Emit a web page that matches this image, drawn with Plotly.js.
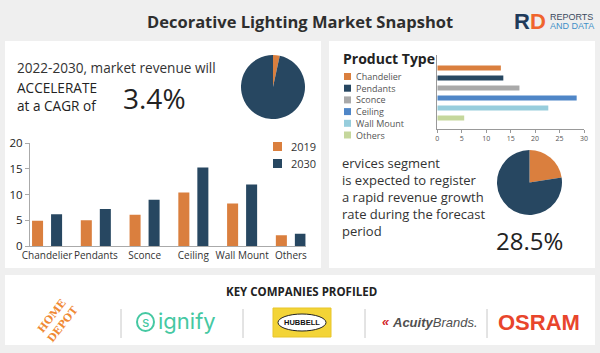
<!DOCTYPE html>
<html>
<head>
<meta charset="utf-8">
<script src="https://cdn.plot.ly/plotly-3.0.1.min.js"></script>
<style>html,body{margin:0;padding:0;background:#efefef;}#chart{width:600px;height:353px;}</style>
</head>
<body>
<div id="chart"></div>
<script>
// ---------- data ----------
const categories = ['Chandelier', 'Pendants', 'Sconce', 'Ceiling', 'Wall Mount', 'Others'];
const years = ['2019', '2030'];
const revenue2019 = [4.9, 5.0, 6.1, 10.4, 8.3, 2.1];
const revenue2030 = [6.2, 7.2, 9.0, 15.3, 12.0, 2.4];
const productTypes = ['Chandelier', 'Pendants', 'Sconce', 'Ceiling', 'Wall Mount', 'Others'];
const productShare = [13.0, 13.5, 16.8, 28.5, 22.7, 5.5];
const cagrPieValues = [3.4, 96.6];
const servicesPieValues = [22.5, 77.5];
const barYTicks = [0, 5, 10, 15, 20];
const shareXTicks = [0, 5, 10, 15, 20, 25, 30];
const companies = ['HOME<br>DEPOT', 'ignify', 'HUBBELL', 'Acuity', 'Brands.', 'OSRAM'];

// ---------- styles ----------
const ORANGE = '#DA7F3E';
const NAVY = '#274761';
const productColors = ['#DA7F3E', '#274761', '#A9A9A9', '#4F86C7', '#97CDDC', '#C5D79C'];
const FONT = 'Open Sans, sans-serif';
const W = 600, H = 353;
const px = x => x / W;
const py = y => 1 - y / H;

const traces = [];
traces.push({
  type: 'bar', x: categories, y: revenue2019, name: years[0], xaxis: 'x', yaxis: 'y',
  marker: {color: ORANGE}, offsetgroup: 'a', showlegend: false, hoverinfo: 'skip'
});
traces.push({
  type: 'bar', x: categories, y: revenue2030, name: years[1], xaxis: 'x', yaxis: 'y',
  marker: {color: NAVY}, offsetgroup: 'b', showlegend: false, hoverinfo: 'skip'
});
productTypes.forEach((p, i) => {
  traces.push({
    type: 'bar', orientation: 'h', y: [p], x: [productShare[i]], name: p,
    xaxis: 'x2', yaxis: 'y2', width: 0.48, offsetgroup: 'h',
    marker: {color: productColors[i]}, showlegend: false, hoverinfo: 'skip'
  });
});
traces.push({
  type: 'pie', values: cagrPieValues, sort: false, direction: 'clockwise', rotation: 0,
  marker: {colors: [ORANGE, NAVY], line: {width: 0}}, textinfo: 'none', hoverinfo: 'skip',
  showlegend: false, domain: {x: [px(241), px(305)], y: [py(119), py(55)]}
});
traces.push({
  type: 'pie', values: servicesPieValues, sort: false, direction: 'clockwise', rotation: 0,
  marker: {colors: [ORANGE, NAVY], line: {width: 0}}, textinfo: 'none', hoverinfo: 'skip',
  showlegend: false, domain: {x: [px(497), px(562)], y: [py(215), py(150)]}
});

const shapes = [
  {type: 'rect', xref: 'paper', yref: 'paper', x0: px(5), x1: px(321), y0: py(268), y1: py(41), fillcolor: '#ffffff', line: {width: 0}, layer: 'below'},
  {type: 'rect', xref: 'paper', yref: 'paper', x0: px(329), x1: px(595), y0: py(268), y1: py(41), fillcolor: '#ffffff', line: {width: 0}, layer: 'below'},
  {type: 'rect', xref: 'paper', yref: 'paper', x0: px(5), x1: px(595), y0: py(345), y1: py(275), fillcolor: '#ffffff', line: {width: 0}, layer: 'below'},
  ...[121, 243, 365, 487].map(x => ({type: 'line', xref: 'paper', yref: 'paper', x0: px(x), x1: px(x), y0: py(338), y1: py(309), line: {color: '#c8c8c8', width: 1}})),
  {type: 'circle', xref: 'paper', yref: 'paper', x0: px(137), x1: px(154), y0: py(331), y1: py(313), line: {color: '#45C8A2', width: 2}},
  {type: 'rect', xref: 'paper', yref: 'paper', x0: px(273), x1: px(331), y0: py(337), y1: py(308), fillcolor: '#F3D437', line: {color: '#E8C52A', width: 1}},
  {type: 'circle', xref: 'paper', yref: 'paper', x0: px(278), x1: px(326), y0: py(331), y1: py(314), fillcolor: '#ffffff', line: {color: '#222', width: 1}},
  {type: 'line', xref: 'paper', yref: 'paper', x0: px(302), x1: px(302), y0: py(331), y1: py(314), line: {color: '#555', width: 0.6}, layer: 'below'}
];
years.forEach((yr, i) => {
  shapes.push({type: 'rect', xref: 'paper', yref: 'paper', x0: px(273), x1: px(282), y0: py(151 + i * 17), y1: py(142 + i * 17), fillcolor: [ORANGE, NAVY][i], line: {width: 0}});
});
productTypes.forEach((p, i) => {
  const yc = 76.5 + i * 11.7;
  shapes.push({type: 'rect', xref: 'paper', yref: 'paper', x0: px(344), x1: px(351), y0: py(yc + 3.5), y1: py(yc - 3.5), fillcolor: productColors[i], line: {width: 0}});
});

const ann = (text, x, y, opts) => Object.assign({text, x: px(x), y: py(y), xref: 'paper', yref: 'paper', showarrow: false, xanchor: 'left', yanchor: 'middle', font: {family: FONT, size: 13, color: '#333'}}, opts || {});

const annotations = [
  ann('<b>Decorative Lighting Market Snapshot</b>', 300, 21, {xanchor: 'center', font: {family: FONT, size: 16.5, color: '#2e2e2e'}}),
  ann('<b>R</b>', 512, 21.5, {font: {family: 'Liberation Sans, Arial', size: 22, color: '#1F3A5A'}}),
  ann('<b>D</b>', 528, 21.5, {font: {family: 'Liberation Sans, Arial', size: 22, color: '#F0642D'}}),
  ann('REPORTS', 548, 17, {font: {family: 'Liberation Sans, Arial', size: 9, color: '#3a4a60'}}),
  ann('AND DATA', 548, 26, {font: {family: 'Liberation Sans, Arial', size: 9, color: '#3f8fc8'}}),
  ann('2022-2030, market revenue will', 15, 67, {font: {family: FONT, size: 13.6, color: '#333'}}),
  ann('ACCELERATE', 15, 88, {font: {family: FONT, size: 13.6, color: '#222'}}),
  ann('at a CAGR of', 15, 105, {font: {family: FONT, size: 13.6, color: '#222'}}),
  ann('3.4%', 121, 98, {font: {family: FONT, size: 28, color: '#222'}}),
  ann('<b>Product Type</b>', 341, 59, {font: {family: FONT, size: 14, color: '#222'}}),
  ann('ervices segment<br>is expected to register<br>a rapid revenue growth<br>rate during the forecast<br>period', 340, 196.5,
      {align: 'left', font: {family: FONT, size: 13, color: '#333'}}),
  ann('28.5%', 529.5, 240, {xanchor: 'center', font: {family: FONT, size: 24, color: '#222'}}),
  ann('<b>KEY COMPANIES PROFILED</b>', 301, 291, {xanchor: 'center', font: {family: FONT, size: 11.5, color: '#222'}}),
  ann('<b>' + companies[0] + '</b>', 57, 320, {xanchor: 'center', textangle: -52, font: {family: 'DejaVu Serif, serif', size: 10.5, color: '#F08A35'}}),
  ann('s', 145.5, 321.5, {xanchor: 'center', font: {family: 'Inter, sans-serif', size: 14, color: '#45C8A2'}}),
  ann(companies[1], 156, 321, {font: {family: 'Inter, sans-serif', size: 22, color: '#45C8A2'}}),
  ann('<b>' + companies[2] + '</b>', 302, 322.5, {xanchor: 'center', font: {family: 'Liberation Sans, Arial', size: 7.5, color: '#111'}}),
  ann('<b><i>\u00ab</i></b>', 380, 321, {font: {family: 'Liberation Sans, Arial', size: 13, color: '#D2232A'}}),
  ann('<b><i>' + companies[3] + '</i></b><i>' + companies[4] + '</i>', 390, 322, {font: {family: 'Liberation Sans, Arial', size: 13, color: '#505050'}}),
  ann('<b>' + companies[5] + '</b>', 539, 322, {xanchor: 'center', font: {family: 'Liberation Sans, Arial', size: 22, color: '#E8452C'}})
];
years.forEach((yr, i) => annotations.push(ann(yr, 289, 146.5 + i * 17, {font: {family: FONT, size: 11, color: '#333'}})));
annotations.push(ann(productTypes.join('<br>'), 354, 76.5 + 2.5 * 11.7, {align: 'left', font: {family: FONT, size: 9, color: '#555'}}));

const layout = {
  width: W, height: H, margin: {l: 0, r: 0, t: 0, b: 0},
  paper_bgcolor: '#efefef', plot_bgcolor: 'rgba(0,0,0,0)',
  font: {family: FONT, color: '#333'},
  barmode: 'group', bargap: 0.22, bargroupgap: 0.42,
  showlegend: false, hovermode: false,
  xaxis: {
    domain: [px(30), px(305.5)], anchor: 'y', type: 'category', range: [-0.35, 5.3],
    showline: true, linecolor: '#aaa', linewidth: 1, ticks: '', showgrid: false, zeroline: false,
    tickangle: 0, tickfont: {family: FONT, size: 10, color: '#333'}, fixedrange: true
  },
  yaxis: {
    domain: [py(246), py(143.3)], anchor: 'x', range: [0, 20], tickvals: barYTicks,
    showline: true, linecolor: '#aaa', linewidth: 1, ticks: 'outside', ticklen: 4, tickcolor: '#aaa',
    showgrid: false, zeroline: false, tickfont: {family: FONT, size: 11.5, color: '#222'}, fixedrange: true
  },
  xaxis2: {
    domain: [px(437.3), px(584)], anchor: 'y2', range: [0, 30], tickvals: shareXTicks,
    showline: true, linecolor: '#999', linewidth: 1, ticks: 'outside', ticklen: 3, tickcolor: '#999',
    showgrid: false, zeroline: false, tickfont: {family: FONT, size: 7, color: '#555'}, fixedrange: true
  },
  yaxis2: {
    domain: [py(129), py(55)], anchor: 'x2', type: 'category', categoryorder: 'array', categoryarray: productTypes,
    range: [6.1, -1.3], showline: true, linecolor: '#999', linewidth: 1, showticklabels: false, ticks: '',
    showgrid: false, zeroline: false, fixedrange: true
  },
  shapes, annotations
};

Plotly.newPlot('chart', traces, layout, {staticPlot: true, displayModeBar: false});
</script>
</body>
</html>
